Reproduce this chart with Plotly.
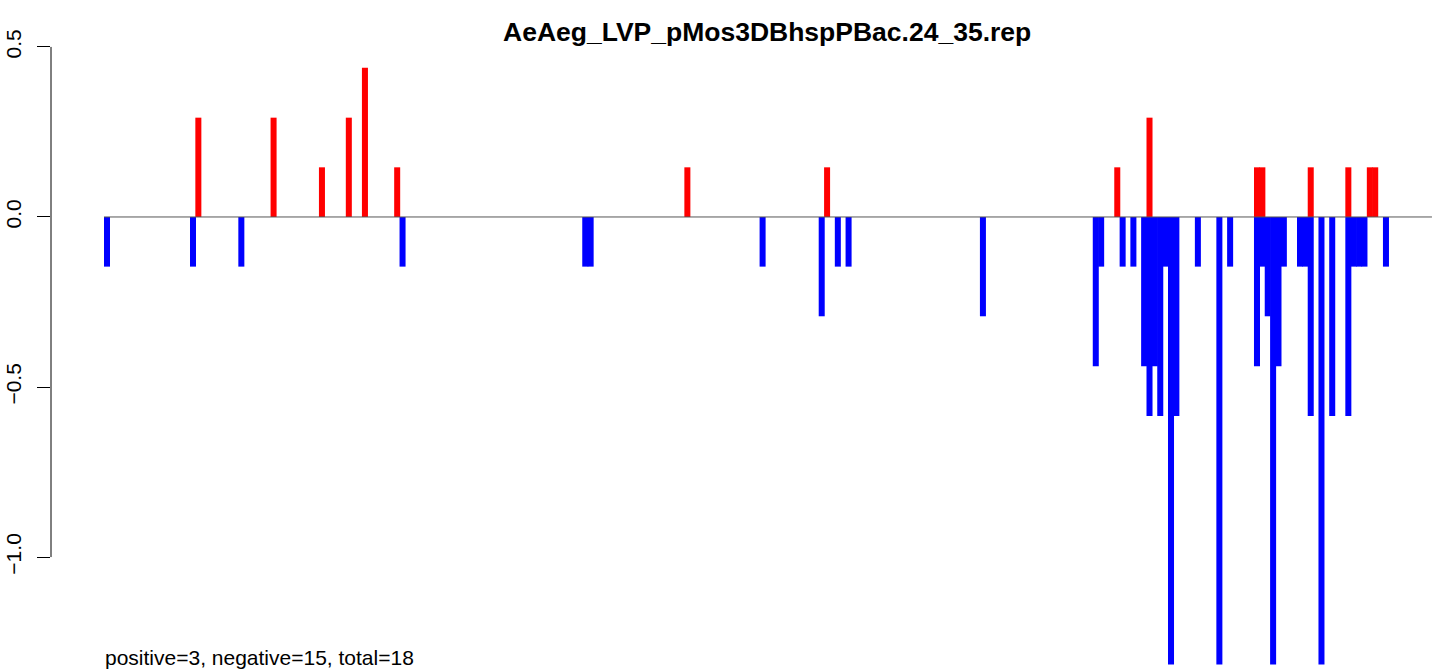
import plotly.graph_objects as go

# bar positions (index along the sequence) and heights
n_positions = 247

pos_index = [17, 31, 40, 45, 48, 54, 108, 134, 188, 194, 214, 215, 224, 231, 235, 236]
pos_values = [0.292, 0.292, 0.146, 0.292, 0.439, 0.146, 0.146, 0.146,
              0.146, 0.292, 0.146, 0.146, 0.146, 0.146, 0.146, 0.146]

neg_index = [0, 16, 25, 55, 89, 90, 122, 133, 136, 138,
             163, 184, 185, 189, 191, 193, 194, 195, 196, 197,
             198, 199, 203, 207, 209, 214, 215, 216, 217, 218,
             219, 222, 223, 224, 226, 228, 231, 232, 233, 234,
             238]
neg_values = [-0.146, -0.146, -0.146, -0.146, -0.146, -0.146, -0.146, -0.292, -0.146, -0.146,
              -0.292, -0.439, -0.146, -0.146, -0.146, -0.439, -0.585, -0.439, -0.585, -0.146,
              -1.316, -0.585, -0.146, -1.316, -0.146, -0.439, -0.146, -0.292, -1.316, -0.439,
              -0.146, -0.146, -0.146, -0.585, -1.316, -0.585, -0.585, -0.146, -0.146, -0.146,
              -0.146]

y_ticks = [-1.0, -0.5, 0.0, 0.5]
y_tick_labels = ["\u22121.0", "\u22120.5", "0.0", "0.5"]

title_text = "AeAeg_LVP_pMos3DBhspPBac.24_35.rep"
footer_text = "positive=3, negative=15, total=18"

font_family = "Liberation Sans, Arial, Helvetica, sans-serif"
bar_width = 1.12

fig = go.Figure()

fig.add_trace(go.Bar(
    x=pos_index, y=pos_values,
    width=bar_width,
    marker=dict(color="#FF0000", line=dict(width=0)),
    showlegend=False
))

fig.add_trace(go.Bar(
    x=neg_index, y=neg_values,
    width=bar_width,
    marker=dict(color="#0000FF", line=dict(width=0)),
    showlegend=False
))

# baseline at zero across all positions
fig.add_shape(type="line", xref="x", yref="y",
              x0=-bar_width / 2, x1=n_positions - 1 + bar_width / 2, y0=0, y1=0,
              line=dict(color="#555555", width=1), layer="above")

# R-style axis line only spanning the ticks
fig.add_shape(type="line", xref="paper", yref="y",
              x0=0, x1=0, y0=min(y_ticks), y1=max(y_ticks),
              line=dict(color="black", width=1))

fig.update_layout(
    width=1439, height=671,
    margin=dict(l=51, r=0, t=0, b=0),
    paper_bgcolor="white", plot_bgcolor="white",
    barmode="overlay",
    font=dict(family=font_family, size=21, color="black"),
    xaxis=dict(visible=False, range=[-10.42, 247.87]),
    yaxis=dict(
        range=[-1.335, 0.638],
        tickvals=y_ticks, ticktext=y_tick_labels,
        ticks="outside", ticklen=13, tickcolor="black", tickwidth=1,
        tickangle=-90, ticklabelstandoff=8,
        showgrid=False, zeroline=False, showline=False,
        tickfont=dict(size=21)
    ),
    annotations=[
        dict(text="<b>" + title_text + "</b>", xref="paper", yref="paper",
             x=0.5159, y=0.952, xanchor="center", yanchor="middle",
             showarrow=False, font=dict(size=26.5)),
        dict(text=footer_text, xref="paper", yref="paper",
             x=0.0375, y=0.0194, xanchor="left", yanchor="middle",
             showarrow=False, font=dict(size=21)),
    ]
)

# drop the default page margin so the figure sits at the window corner
fig.write_html("out.html", config={"displayModeBar": False},
               post_script="document.body.style.margin='0';")
